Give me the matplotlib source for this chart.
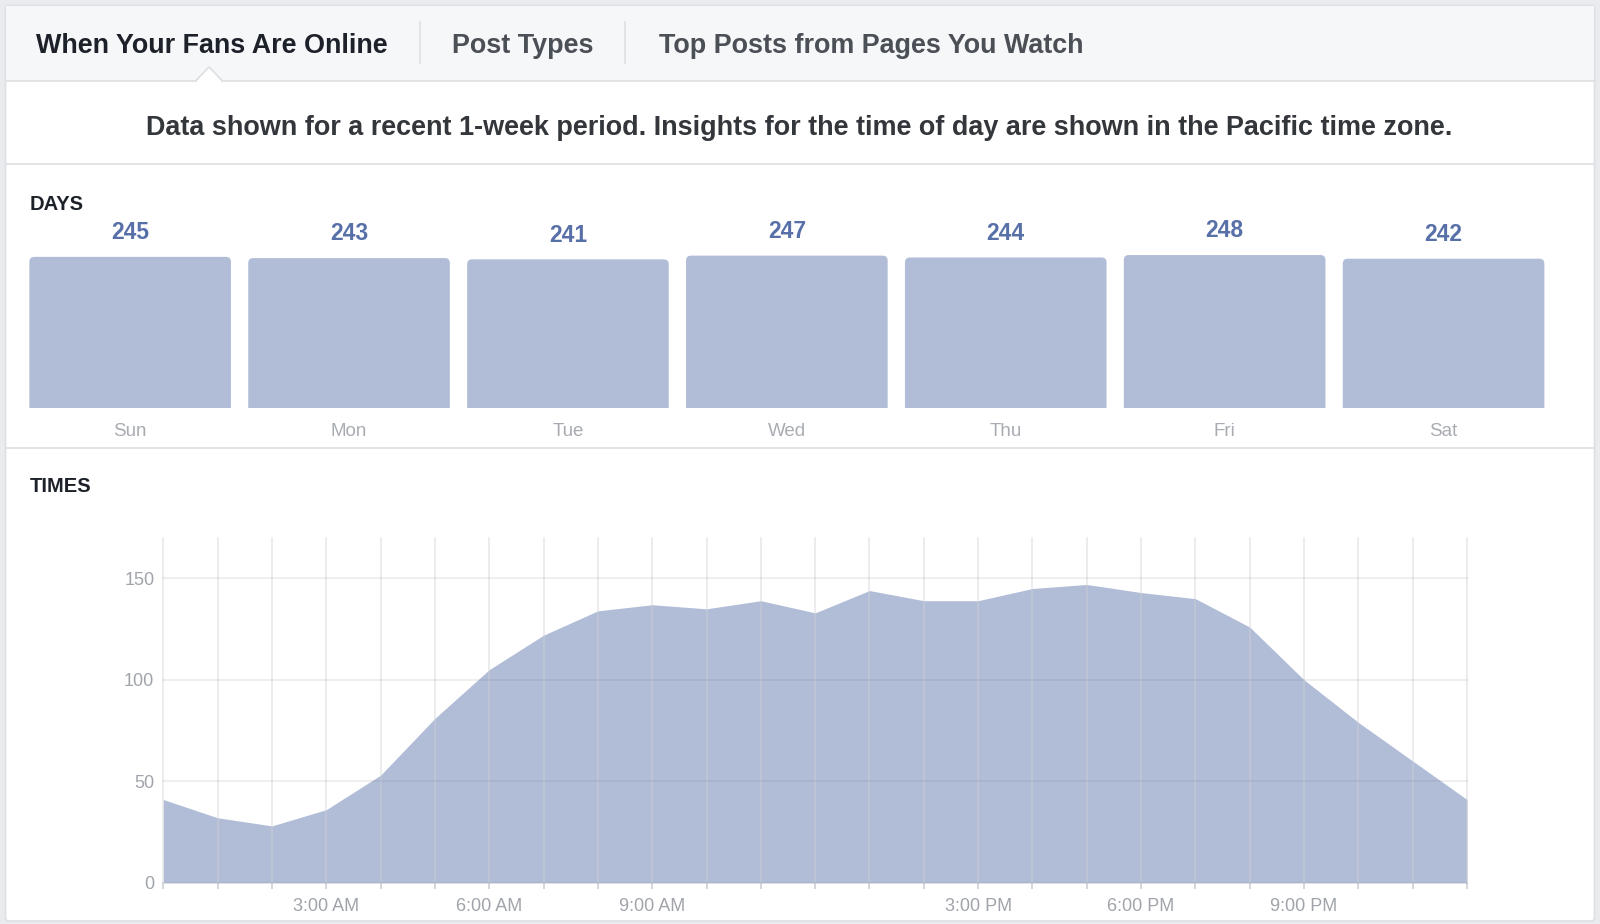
import matplotlib
matplotlib.use('Agg')
import matplotlib.pyplot as plt
from matplotlib.patches import FancyBboxPatch, Rectangle, Polygon

# ---------------- data ----------------
tabs = ['When Your Fans Are Online', 'Post Types', 'Top Posts from Pages You Watch']
info_text = ('Data shown for a recent 1-week period. Insights for the time of day '
             'are shown in the Pacific time zone.')
days = ['Sun', 'Mon', 'Tue', 'Wed', 'Thu', 'Fri', 'Sat']
day_values = [245, 243, 241, 247, 244, 248, 242]
hours = list(range(25))
hour_values = [41, 32, 28, 36, 53, 81, 105, 122, 134, 137, 135, 139, 133,
               144, 139, 139, 145, 147, 143, 140, 126, 100, 79, 60, 41]
hour_tick_labels = ['', '', '', '3:00 AM', '', '', '6:00 AM', '', '', '9:00 AM',
                    '', '', '', '', '', '3:00 PM', '', '', '6:00 PM', '', '',
                    '9:00 PM', '', '', '']
y_ticks = [0, 50, 100, 150]

# ---------------- style ----------------
FONT = 'Liberation Sans'
plt.rcParams['font.family'] = [FONT, 'DejaVu Sans']
FILL = '#b1bdd7'
BORDER = '#dddfe2'
W, H = 1600, 924

fig = plt.figure(figsize=(16, 9.24), dpi=100, facecolor='#e9ebee')
bg = fig.add_axes([0, 0, 1, 1])
bg.set_xlim(0, W)
bg.set_ylim(H, 0)
bg.axis('off')


def ax_px(l, t, r, b):
    return fig.add_axes([l / W, 1 - b / H, (r - l) / W, (b - t) / H])


# panel
bg.add_patch(FancyBboxPatch((5.5, 5.5), 1589, 915.5,
                            boxstyle='round,pad=0,rounding_size=3',
                            fc='white', ec=BORDER, lw=1.2))
# tab bar
bg.add_patch(Rectangle((6.2, 6.2), 1587.6, 74.3, fc='#f6f7f9', ec='none'))
bg.plot([5.5, 196], [80.5, 80.5], color=BORDER, lw=1.2)
bg.plot([222, 1594.5], [80.5, 80.5], color=BORDER, lw=1.2)
bg.add_patch(Polygon([(196, 81), (209, 67), (222, 81)], closed=True, fc='white', ec='none'))
bg.plot([196, 209, 222], [80.5, 67, 80.5], color=BORDER, lw=1.2)
for xd in (420.4, 624.5):
    bg.plot([xd, xd], [22, 63], color=BORDER, lw=1.2)

tab_x = [35.7, 452, 659]
tab_colors = ['#1d2129', '#4b4f56', '#4b4f56']
for s, x, c in zip(tabs, tab_x, tab_colors):
    bg.text(x, 42.8, s, fontsize=19.4, fontweight='bold', color=c,
            ha='left', va='center_baseline')

bg.text(799.5, 125, info_text, fontsize=19.45, fontweight='bold', color='#33363b',
        ha='center', va='center_baseline')

for ys in (164, 447.5):
    bg.plot([5.5, 1594.5], [ys, ys], color=BORDER, lw=1.2)

bg.text(29.3, 202.5, 'DAYS', fontsize=14.5, fontweight='bold', color='#1d2129',
        ha='left', va='center_baseline')
bg.text(29.3, 485, 'TIMES', fontsize=14.5, fontweight='bold', color='#1d2129',
        ha='left', va='center_baseline')

# ---------------- day bars ----------------
bl, bt, br, bb = 20.7, 223, 1553.0, 407.7
axb = ax_px(bl, bt, br, bb)
ymax_b = 300
axb.set_xlim(-0.5, 6.5)
axb.set_ylim(0, ymax_b)
axb.axis('off')
bars = axb.bar(range(len(days)), day_values, width=0.921, color=FILL)
px_per_x = (br - bl) / 7.0
px_per_y = (bb - bt) / ymax_b
radius_px = 5.0
rx = radius_px / px_per_x
ry = radius_px / px_per_y
for rect in bars:
    rect.set_visible(False)
    x0, w, h = rect.get_x(), rect.get_width(), rect.get_height()
    axb.add_patch(FancyBboxPatch((x0, -2 * ry), w, h + 2 * ry,
                                 boxstyle=f'round,pad=0,rounding_size={rx}',
                                 mutation_aspect=ry / rx, fc=FILL, ec='none'))
for i, v in enumerate(day_values):
    axb.annotate(str(v), xy=(i, v), xytext=(0, 17.7 * 0.72), textcoords='offset points',
                 ha='center', va='baseline', fontsize=16.5, fontweight='bold',
                 color='#5870a8', annotation_clip=False)
    axb.annotate(days[i], xy=(i, 0), xytext=(0, -22.3 * 0.72), textcoords='offset points',
                 ha='center', va='center_baseline', fontsize=13.5, color='#a8acb2',
                 annotation_clip=False)

# ---------------- times area ----------------
axt = ax_px(163.3, 537.8, 1467.0, 882.7)
axt.set_xlim(0, 24)
axt.set_ylim(0, 170)
axt.fill_between(hours, hour_values, 0, color=FILL, lw=0, zorder=1)
for sp in axt.spines.values():
    sp.set_visible(False)
axt.set_xticks(hours)
axt.set_xticklabels(hour_tick_labels)
axt.set_yticks(y_ticks)
axt.set_yticklabels([str(t) for t in y_ticks])
axt.set_axisbelow(False)
axt.grid(True, axis='x', color='#d0d0d4', alpha=0.5, lw=1.1)
axt.grid(True, axis='y', color='#606060', alpha=0.13, lw=1.1)
for gl in axt.xaxis.get_gridlines() + axt.yaxis.get_gridlines():
    gl.set_clip_on(False)
axt.tick_params(axis='x', length=4.3, width=1.1, color='#c9ccd1', pad=6.5,
                labelsize=13, labelcolor='#a0a4aa')
axt.tick_params(axis='y', length=0, pad=6.5, labelsize=13, labelcolor='#a0a4aa')

fig.savefig('out.png', dpi=100, facecolor=fig.get_facecolor())
